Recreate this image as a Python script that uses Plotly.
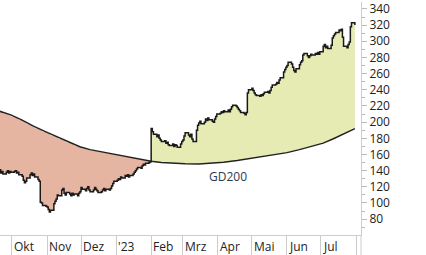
import numpy as np
import pandas as pd
import plotly.graph_objects as go

# ---- data (closing prices per month, business days) ----
p_sep = [141, 137, 139, 136, 138, 140, 137, 139, 138]
p_oct = [139, 140, 137, 138, 135, 133, 128, 125, 127, 131, 135, 137, 134, 136, 132, 129, 127, 101, 100, 97, 96]
p_nov = [95, 92, 89, 91, 99, 102, 105, 110, 109, 116, 118, 112, 110, 113, 111, 109, 112, 110, 111, 109, 112, 114]
p_dec = [119, 117, 115, 118, 120, 116, 114, 116, 119, 117, 115, 113, 114, 116, 118, 115, 117, 116, 118, 121, 124, 127]
p_jan = [128, 130, 129, 132, 131, 134, 133, 135, 132, 134, 136, 138, 140, 142, 144, 143, 146, 148, 147, 149, 150, 151]
p_feb = [192, 188, 185, 182, 184, 180, 178, 176, 177, 174, 175, 172, 171, 173, 170, 172, 171, 169, 173, 176]
p_mar = [178, 183, 187, 184, 182, 185, 179, 176, 190, 196, 199, 201, 198, 200, 204, 202, 205, 203, 201, 200, 204, 207, 210]
p_apr = [211, 213, 212, 214, 213, 215, 213, 216, 219, 221, 220, 218, 216, 214, 212, 211, 209, 212, 236, 240]
p_may = [242, 239, 236, 234, 233, 232, 234, 233, 235, 237, 238, 236, 239, 243, 246, 247, 249, 248, 252, 255, 262, 265, 268]
p_jun = [270, 274, 272, 268, 264, 262, 266, 271, 274, 276, 283, 285, 282, 280, 282, 284, 283, 285, 284, 286, 284, 287]
p_jul = [294, 296, 292, 294, 291, 295, 304, 307, 309, 311, 314, 313, 315, 305, 294, 292, 296, 299, 318, 323, 320]

month_periods = [("2022-09-20", "2022-09-30", p_sep), ("2022-10-01", "2022-10-31", p_oct),
                 ("2022-11-01", "2022-11-30", p_nov), ("2022-12-01", "2022-12-31", p_dec),
                 ("2023-01-01", "2023-01-31", p_jan), ("2023-02-01", "2023-02-28", p_feb),
                 ("2023-03-01", "2023-03-31", p_mar), ("2023-04-01", "2023-04-30", p_apr),
                 ("2023-05-01", "2023-05-31", p_may), ("2023-06-01", "2023-06-30", p_jun),
                 ("2023-07-01", "2023-07-31", p_jul)]

gd_dates = ["2022-09-20", "2022-09-30", "2022-10-10", "2022-10-20", "2022-10-31", "2022-11-10",
            "2022-11-21", "2022-11-30", "2022-12-09", "2022-12-20", "2022-12-30", "2023-01-10",
            "2023-01-20", "2023-01-31", "2023-02-01", "2023-02-10", "2023-02-21", "2023-03-03",
            "2023-03-15", "2023-03-27", "2023-04-06", "2023-04-18", "2023-04-28", "2023-05-10",
            "2023-05-22", "2023-06-01", "2023-06-12", "2023-06-22", "2023-07-03", "2023-07-12",
            "2023-07-21", "2023-07-31"]
gd_vals = [213.5, 209, 202.5, 195, 188, 181.5, 175, 169.5, 166, 163, 160.5, 157.5,
           155, 151.8, 151.5, 150, 149, 148.5, 148.2, 149, 150.5, 152.5, 154.8, 157.3,
           159.8, 162.3, 166, 169.5, 174, 179.5, 185, 192]

month_ticks = ["2022-10-01", "2022-11-01", "2022-12-01", "2023-01-01", "2023-02-01", "2023-03-01",
               "2023-04-01", "2023-05-01", "2023-06-01", "2023-07-01", "2023-08-01"]
month_labels = ["Okt", "Nov", "Dez", "'23", "Feb", "Mrz", "Apr", "Mai", "Jun", "Jul"]
y_ticks = list(range(80, 341, 20))

# ---- build series ----
dates, closes = [], []
for s, e, vals in month_periods:
    d = pd.bdate_range(s, e)
    if len(d) != len(vals):
        d = pd.date_range(s, e, periods=len(vals))
    dates.extend(list(d))
    closes.extend(vals)
dates = pd.DatetimeIndex(dates)
closes = np.array(closes, dtype=float)
gd_dt = pd.to_datetime(gd_dates)
gd_v = np.array(gd_vals, dtype=float)

t_price = dates.values.astype("datetime64[s]").astype(np.int64).astype(float)
t_gd = gd_dt.values.astype("datetime64[s]").astype(np.int64).astype(float)
gd_at_price = np.interp(t_price, t_gd, gd_v)

RED = "#E6B5A2"
GREEN = "#E6EBB3"

fig = go.Figure()

above = closes >= gd_at_price
start = 0
n = len(closes)
for i in range(1, n + 1):
    if i == n or above[i] != above[start]:
        seg = slice(start, i)
        xs = list(dates[seg]) + list(dates[seg][::-1])
        ys = list(closes[seg]) + list(gd_at_price[seg][::-1])
        fig.add_trace(go.Scatter(x=xs, y=ys, fill="toself", mode="none",
                                 line=dict(shape="hv"),
                                 fillcolor=GREEN if above[start] else RED,
                                 hoverinfo="skip", showlegend=False))
        start = i

fig.add_trace(go.Scatter(x=gd_dt, y=gd_v, mode="lines",
                         line=dict(color="#222222", width=1.5), showlegend=False))
fig.add_trace(go.Scatter(x=dates, y=closes, mode="lines",
                         line=dict(color="#1a1a1a", width=1.5, shape="hv"), showlegend=False))

FONT = "Open Sans, Noto Sans, sans-serif"

fig.add_annotation(x="2023-04-10", y=132.7, xref="x", yref="y", text="GD200",
                   showarrow=False, xanchor="center", yanchor="middle",
                   font=dict(family=FONT, size=12, color="#2b3a55"))

for t, lab in zip(month_ticks, month_labels):
    fig.add_annotation(x=t, y=-0.051, xref="x", yref="paper", text=lab,
                       showarrow=False, xanchor="left", yanchor="middle", xshift=0,
                       font=dict(family=FONT, size=12, color="#222222"))

# y axis line continued below plot area
fig.add_shape(type="line", xref="paper", yref="paper", x0=1, x1=1, y0=0, y1=-0.09,
              line=dict(color="#cccccc", width=1))

fig.update_layout(
    width=426, height=255,
    margin=dict(l=0, r=65, t=0, b=20),
    paper_bgcolor="white", plot_bgcolor="white",
    font=dict(family=FONT, size=12, color="#222222"),
    xaxis=dict(type="date", range=["2022-09-20 10:00", "2023-08-05 10:00"],
               tickvals=month_ticks, showticklabels=False,
               ticks="outside", ticklen=20, tickcolor="#cccccc", tickwidth=1,
               showline=True, linecolor="#cccccc", linewidth=1,
               showgrid=False, zeroline=False),
    yaxis=dict(side="right", range=[60.4, 348.6], tickvals=y_ticks,
               ticks="outside", ticklen=5, tickcolor="#bbbbbb", tickwidth=1,
               minor=dict(dtick=10, tick0=0, ticks="outside", ticklen=3, tickcolor="#bbbbbb"),
               showline=True, linecolor="#cccccc", linewidth=1,
               showgrid=False, zeroline=False, ticklabeloverflow="allow",
               tickfont=dict(family=FONT, size=12, color="#222222")),
)

fig.write_html("out.html")
